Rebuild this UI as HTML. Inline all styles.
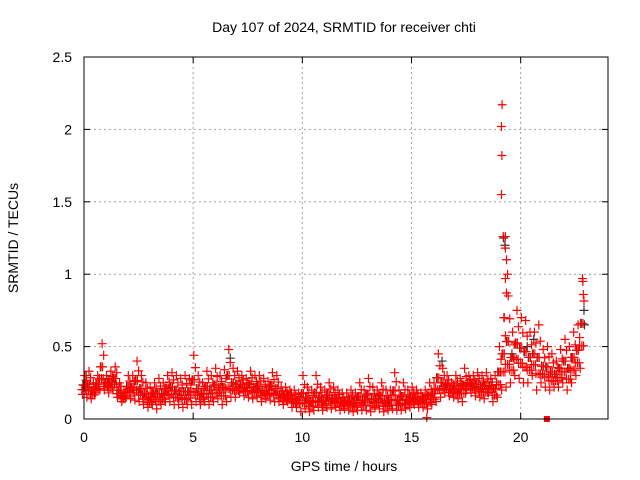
<!DOCTYPE html>
<html><head><meta charset="utf-8"><style>
body{margin:0;background:#fff}
svg{display:block;font-family:"Liberation Sans",sans-serif}
</style></head><body>
<svg id="chart" width="640" height="480" viewBox="0 0 640 480">
<text x="344" y="32" font-size="14" text-anchor="middle">Day 107 of 2024, SRMTID for receiver chti</text>
<text x="344" y="471" font-size="14" text-anchor="middle">GPS time / hours</text>
<text x="18" y="238" font-size="14" text-anchor="middle" transform="rotate(-90 18 238)">SRMTID / TECUs</text>
<g id="grid"></g>
<g id="darkmarks"></g>
<g id="marks"></g>
<rect x="84" y="57" width="524" height="362" fill="none" stroke="#000" stroke-width="1"/>
<g id="ticks"></g>
</svg>
<script>
const xTicks=[0,5,10,15,20];
const yTicks=[0,0.5,1,1.5,2,2.5];
const yTickLabels=["0","0.5","1","1.5","2","2.5"];
const hours=[0,0.2,0.4,0.6,0.8,1,1.2,1.4,1.6,1.8,2,2.2,2.4,2.6,2.8,3,3.2,3.4,3.6,3.8,4,4.2,4.4,4.6,4.8,5,5.2,5.4,5.6,5.8,6,6.2,6.4,6.6,6.8,7,7.2,7.4,7.6,7.8,8,8.2,8.4,8.6,8.8,9,9.2,9.4,9.6,9.8,10,10.2,10.4,10.6,10.8,11,11.2,11.4,11.6,11.8,12,12.2,12.4,12.6,12.8,13,13.2,13.4,13.6,13.8,14,14.2,14.4,14.6,14.8,15,15.2,15.4,15.6,15.8,16,16.2,16.4,16.6,16.8,17,17.2,17.4,17.6,17.8,18,18.2,18.4,18.6,18.8,19,19.2,19.4,19.6,19.8,20,20.2,20.4,20.6,20.8,21,21.2,21.4,21.6,21.8,22,22.2,22.4,22.6,22.8];
const lowVals=[.17,.15,.14,.18,.2,.2,.18,.2,.15,.12,.15,.14,.13,.12,.1,.08,.1,.07,.1,.12,.12,.1,.1,.08,.1,.1,.12,.1,.12,.1,.12,.14,.1,.12,.15,.15,.18,.16,.15,.14,.15,.12,.14,.13,.12,.12,.1,.12,.08,.08,.05,.07,.05,.06,.08,.06,.08,.07,.08,.06,.07,.06,.05,.06,.06,.06,.05,.08,.07,.05,.06,.07,.06,.06,.07,.08,.1,.08,.08,.07,.1,.12,.15,.18,.16,.15,.14,.12,.2,.18,.16,.15,.14,.18,.12,.15,.2,.22,.25,.3,.28,.25,.25,.3,.2,.25,.22,.2,.22,.22,.25,.2,.25,.3,.35];
const highVals=[.3,.33,.25,.3,.52,.3,.33,.36,.25,.2,.3,.3,.4,.3,.25,.22,.25,.28,.25,.3,.32,.3,.28,.3,.28,.44,.3,.25,.33,.3,.35,.3,.34,.48,.35,.33,.3,.28,.33,.3,.3,.28,.26,.32,.3,.22,.22,.2,.2,.18,.3,.22,.2,.3,.22,.2,.25,.22,.2,.18,.18,.2,.18,.25,.2,.28,.22,.2,.25,.2,.2,.32,.2,.25,.2,.22,.2,.18,.2,.25,.25,.45,.35,.3,.25,.3,.28,.35,.3,.3,.32,.3,.32,.28,.3,.5,.7,.85,.6,.75,.7,.68,.6,.6,.65,.48,.5,.45,.4,.48,.55,.5,.6,.65,.97];
const outlierHours=[19.15,19.12,19.14,19.12,19.2,19.3,19.3,19.35,19.4,19.3,19.35,19.25,22.85,22.87,15.7];
const outlierVals=[2.17,2.02,1.82,1.55,1.26,1.26,1.18,1.1,1.0,0.97,0.87,0.7,0.95,0.86,0.01];
const darkHours=[19.22,19.28,22.9,22.92,20.3,20.6,19.6,0.1,6.7,16.4];
const darkVals=[1.25,1.2,0.75,0.65,0.5,0.55,0.45,0.3,0.42,0.4];
const squareHours=[21.2];
const squareVals=[0];

const X=h=>84+h*(524/24);
const Y=v=>419-v*(362/2.5);
const NS="http://www.w3.org/2000/svg";
const grid=document.getElementById('grid'),marks=document.getElementById('marks'),dmarks=document.getElementById('darkmarks'),ticks=document.getElementById('ticks');
function ln(p,x1,y1,x2,y2,st,dash){const l=document.createElementNS(NS,'line');l.setAttribute('x1',x1);l.setAttribute('y1',y1);l.setAttribute('x2',x2);l.setAttribute('y2',y2);l.setAttribute('stroke',st);if(dash)l.setAttribute('stroke-dasharray',dash);p.appendChild(l);return l;}
xTicks.forEach(t=>{const x=X(t);
 if(t>0){const g=ln(grid,x,57,x,419,'#a0a0a0','2 3');
 
 }
 ln(ticks,x,419,x,413,'#000');ln(ticks,x,57,x,63,'#000');
 const tx=document.createElementNS(NS,'text');tx.setAttribute('x',x);tx.setAttribute('y',442);tx.setAttribute('font-size','14');tx.setAttribute('text-anchor','middle');tx.textContent=t;
 
 
 ticks.appendChild(tx);});
yTicks.forEach((t,i)=>{const y=Y(t);
 if(t>0&&t<2.5){const g=ln(grid,84,y,608,y,'#a0a0a0','2 3');
 
 }
 ln(ticks,84,y,90,y,'#000');ln(ticks,608,y,602,y,'#000');
 const tx=document.createElementNS(NS,'text');tx.setAttribute('x',72);tx.setAttribute('y',y+5);tx.setAttribute('font-size','14');tx.setAttribute('text-anchor','end');tx.textContent=yTickLabels[i];
 
 
 ticks.appendChild(tx);});
function plus(g,h,v,col,name){const x=X(h),y=Y(v);const p=document.createElementNS(NS,'path');
 p.setAttribute('d',`M${x-4.5},${y}H${x+4.5}M${x},${y-4.5}V${y+4.5}`);p.setAttribute('stroke',col);p.setAttribute('stroke-width','1.2');
 
 
 g.appendChild(p);}
hours.forEach((h,i)=>{const lo=lowVals[i],hi=highVals[i],mid=(lo+hi)/2;
 plus(dmarks,h-0.05,mid,'#333','dark-point');
 plus(marks,h-0.07,lo,'#f00','red-point');plus(marks,h+0.03,hi,'#f00','red-point');
 plus(marks,h-0.02,mid,'#f00','red-point');plus(marks,h+0.08,(lo+mid)/2,'#f00','red-point');
 plus(marks,h+0.1,(mid+hi)/2,'#f00','red-point');
 plus(marks,h-0.1,(lo+mid)/2,'#f00','red-point');plus(marks,h+0.05,mid,'#f00','red-point');
 plus(marks,h,(lo*3+hi)/4,'#f00','red-point');});
darkHours.forEach((h,i)=>plus(dmarks,h,darkVals[i],'#333','dark-point'));
outlierHours.forEach((h,i)=>plus(marks,h,outlierVals[i],'#f00','red-outlier'));
squareHours.forEach((h,i)=>{const r=document.createElementNS(NS,'rect');r.setAttribute('x',X(h)-3);r.setAttribute('y',Y(squareVals[i])-3);r.setAttribute('width',6);r.setAttribute('height',6);r.setAttribute('fill','#f00');
 
 
 marks.appendChild(r);});
</script>
</body></html>
